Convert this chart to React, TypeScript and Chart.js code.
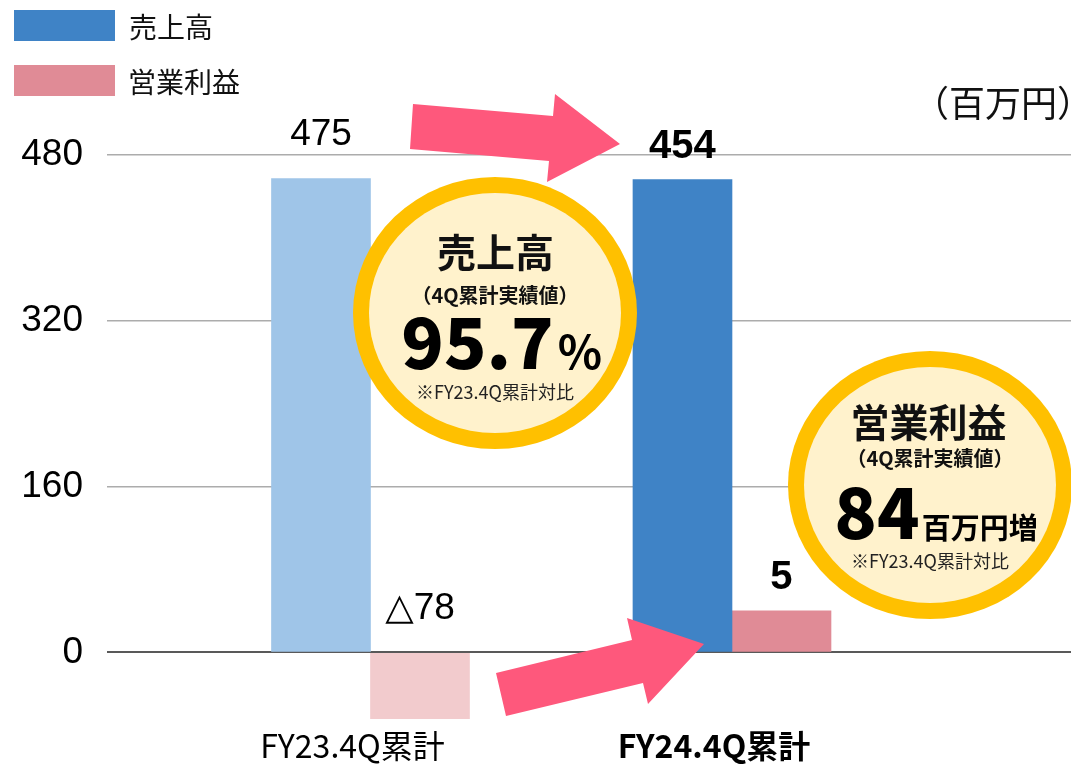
import React, { useEffect, useRef } from 'react';
import { Chart, registerables } from 'chart.js';

Chart.register(...registerables);

// ---- data ----
const categories = ['FY23.4Q累計', 'FY24.4Q累計'];
const seriesNames = ['売上高', '営業利益'];
const salesValues = [457, 456]; // bar heights as drawn (百万円)
const opIncomeValues = [-64, 40];
const salesLabels = ['475', '454'];
const opIncomeLabels = ['△78', '5'];
const yTicks = [0, 160, 320, 480];
const unitLabel = '（百万円）';

const salesColors = ['#9fc5e8', '#3f83c6'];
const opIncomeColors = ['#f2cbcd', '#e08b96'];

const callouts = [
  {
    cx: 495, cy: 313, rx: 142, ry: 136,
    title: '売上高', titleTop: 233,
    sub: '（4Q累計実績値）', subTop: 285,
    big: '95.7', unit: '%', bigTop: 317, bigCx: 502, unitGap: 4, unitSize: 46,
    note: '※FY23.4Q累計対比', noteTop: 383,
  },
  {
    cx: 930, cy: 485, rx: 142, ry: 134,
    title: '営業利益', titleTop: 403,
    sub: '（4Q累計実績値）', subTop: 448,
    big: '84', unit: '百万円増', bigTop: 487, bigCx: 937, unitGap: 2, unitSize: 29,
    note: '※FY23.4Q累計対比', noteTop: 552,
  },
];

type Pt = [number, number];
const arrows: Pt[][] = [
  [[413, 104], [553, 116], [555, 94], [620, 144], [547, 182], [549, 161], [410, 149]],
  [[496, 673], [632, 640], [627, 618], [704, 644], [648, 704], [643, 683], [506, 716]],
];

const JP = '"Noto Sans CJK JP", "Noto Sans", sans-serif';
const ARIAL = '"Liberation Sans", Arial, "DejaVu Sans", sans-serif';

function drawInk(
  ctx: CanvasRenderingContext2D,
  text: string,
  font: string,
  color: string,
  anchor: 'left' | 'center' | 'right',
  ax: number,
  inkTop: number
) {
  ctx.font = font;
  ctx.textAlign = 'left';
  ctx.textBaseline = 'alphabetic';
  const m = ctx.measureText(text);
  const L = m.actualBoundingBoxLeft;
  const R = m.actualBoundingBoxRight;
  let x: number;
  if (anchor === 'left') x = ax + L;
  else if (anchor === 'right') x = ax - R;
  else x = ax + (L - R) / 2;
  ctx.fillStyle = color;
  ctx.fillText(text, x, inkTop + m.actualBoundingBoxAscent);
}

const overlayPlugin = {
  id: 'overlay',
  afterDatasetsDraw(chart: any) {
    const ctx: CanvasRenderingContext2D = chart.ctx;
    ctx.save();

    // value labels
    const labelSets = [salesLabels, opIncomeLabels];
    chart.data.datasets.forEach((_ds: any, di: number) => {
      const meta = chart.getDatasetMeta(di);
      meta.data.forEach((bar: any, i: number) => {
        const top = Math.min(bar.y, bar.base);
        const bold = i === 1;
        ctx.font = bold ? `bold 40px ${ARIAL}` : `37px ${ARIAL}`;
        ctx.fillStyle = '#000';
        ctx.textAlign = 'center';
        ctx.textBaseline = 'alphabetic';
        ctx.fillText(labelSets[di][i], bar.x, top - (bold ? 22 : 34));
      });
    });

    // arrows
    ctx.fillStyle = '#fe587c';
    arrows.forEach((pts) => {
      ctx.beginPath();
      pts.forEach(([x, y], k) => (k === 0 ? ctx.moveTo(x, y) : ctx.lineTo(x, y)));
      ctx.closePath();
      ctx.fill();
    });

    // callouts
    callouts.forEach((c) => {
      ctx.beginPath();
      ctx.ellipse(c.cx, c.cy, c.rx, c.ry, 0, 0, Math.PI * 2);
      ctx.fillStyle = '#ffc000';
      ctx.fill();
      ctx.beginPath();
      ctx.ellipse(c.cx, c.cy, c.rx - 16, c.ry - 16, 0, 0, Math.PI * 2);
      ctx.fillStyle = '#fff2cc';
      ctx.fill();

      drawInk(ctx, c.title, `bold 39px ${JP}`, '#111', 'center', c.cx, c.titleTop);
      drawInk(ctx, c.sub, `bold 20px ${JP}`, '#111', 'center', c.cx, c.subTop);

      const bigFont = `900 70px ${JP}`;
      const unitFont = `bold ${c.unitSize}px ${JP}`;
      ctx.font = bigFont;
      const mb = ctx.measureText(c.big);
      ctx.font = unitFont;
      const mu = ctx.measureText(c.unit);
      const x = c.bigCx - (mb.width + c.unitGap + mu.actualBoundingBoxRight - mb.actualBoundingBoxLeft) / 2;
      const baseline = c.bigTop + mb.actualBoundingBoxAscent;
      ctx.textAlign = 'left';
      ctx.textBaseline = 'alphabetic';
      ctx.fillStyle = '#000';
      ctx.font = bigFont;
      ctx.fillText(c.big, x, baseline);
      ctx.font = unitFont;
      ctx.fillText(c.unit, x + mb.width + c.unitGap, baseline);

      drawInk(ctx, c.note, `18px ${JP}`, '#222', 'center', c.cx + 1, c.noteTop);
    });

    // legend
    const legendColors = [salesColors[1], opIncomeColors[1]];
    const legendTops = [10, 65];
    seriesNames.forEach((name, i) => {
      ctx.fillStyle = legendColors[i];
      ctx.fillRect(14, legendTops[i], 101, 31);
      drawInk(ctx, name, `28px ${JP}`, '#111', 'left', 130, legendTops[i] + 3);
    });

    // unit label
    drawInk(ctx, unitLabel, `36px ${JP}`, '#111', 'right', 1068, 85);

    ctx.restore();
  },
};

export default function App() {
  const ref = useRef<HTMLCanvasElement>(null);

  useEffect(() => {
    if (!ref.current) return;
    const chart = new Chart(ref.current, {
      type: 'bar',
      data: {
        datasets: [
          {
            label: seriesNames[0],
            data: categories.map((_, i) => ({ x: i, y: salesValues[i] })),
            backgroundColor: salesColors,
            borderWidth: 0,
            barThickness: 99,
          },
          {
            label: seriesNames[1],
            data: categories.map((_, i) => ({ x: i, y: opIncomeValues[i] })),
            backgroundColor: opIncomeColors,
            borderWidth: 0,
            barThickness: 99,
          },
        ],
      } as any,
      options: {
        animation: false,
        responsive: false,
        events: [],
        layout: { padding: { top: 134, left: 0, right: 0, bottom: 0 } },
        plugins: {
          legend: { display: false },
          tooltip: { enabled: false },
        },
        scales: {
          x: {
            type: 'linear',
            min: -0.7289,
            max: 1.9378,
            offset: false,
            grid: { display: false, drawTicks: false, offset: false },
            border: { display: false },
            afterBuildTicks: (scale: any) => {
              scale.ticks = categories.map((_, i) => ({ value: i }));
            },
            afterFit: (scale: any) => {
              scale.height = 39;
              scale.paddingLeft = 0;
              scale.paddingRight = 0;
            },
            ticks: {
              autoSkip: false,
              maxRotation: 0,
              minRotation: 0,
              padding: 2,
              labelOffset: -18,
              color: '#000',
              font: (ctx: any) => ({
                family: JP,
                size: 32,
                weight: ctx.index === 1 ? 'bold' : 'normal',
              }),
              callback: (_v: any, index: number) => categories[index],
            },
          },
          y: {
            min: -70,
            max: 500,
            afterBuildTicks: (scale: any) => {
              scale.ticks = yTicks.map((v) => ({ value: v }));
            },
            afterFit: (scale: any) => {
              scale.width = 107;
              scale.paddingTop = 0;
              scale.paddingBottom = 0;
            },
            grid: {
              drawTicks: false,
              color: (ctx: any) => (ctx.tick && ctx.tick.value === 0 ? '#595959' : '#acacac'),
              lineWidth: (ctx: any) => (ctx.tick && ctx.tick.value === 0 ? 2 : 1.5),
            },
            border: { display: false },
            ticks: {
              padding: 24,
              color: '#000',
              font: { family: ARIAL, size: 37 },
              callback: (v: any) => String(v),
            },
          },
        },
      } as any,
      plugins: [overlayPlugin],
    });
    return () => chart.destroy();
  }, []);

  return (
    <div style={{ position: 'absolute', left: 0, top: 0, width: 1071, height: 764, background: '#fff' }}>
      <canvas ref={ref} width={1071} height={764} style={{ display: 'block', width: 1071, height: 764 }} />
    </div>
  );
}
